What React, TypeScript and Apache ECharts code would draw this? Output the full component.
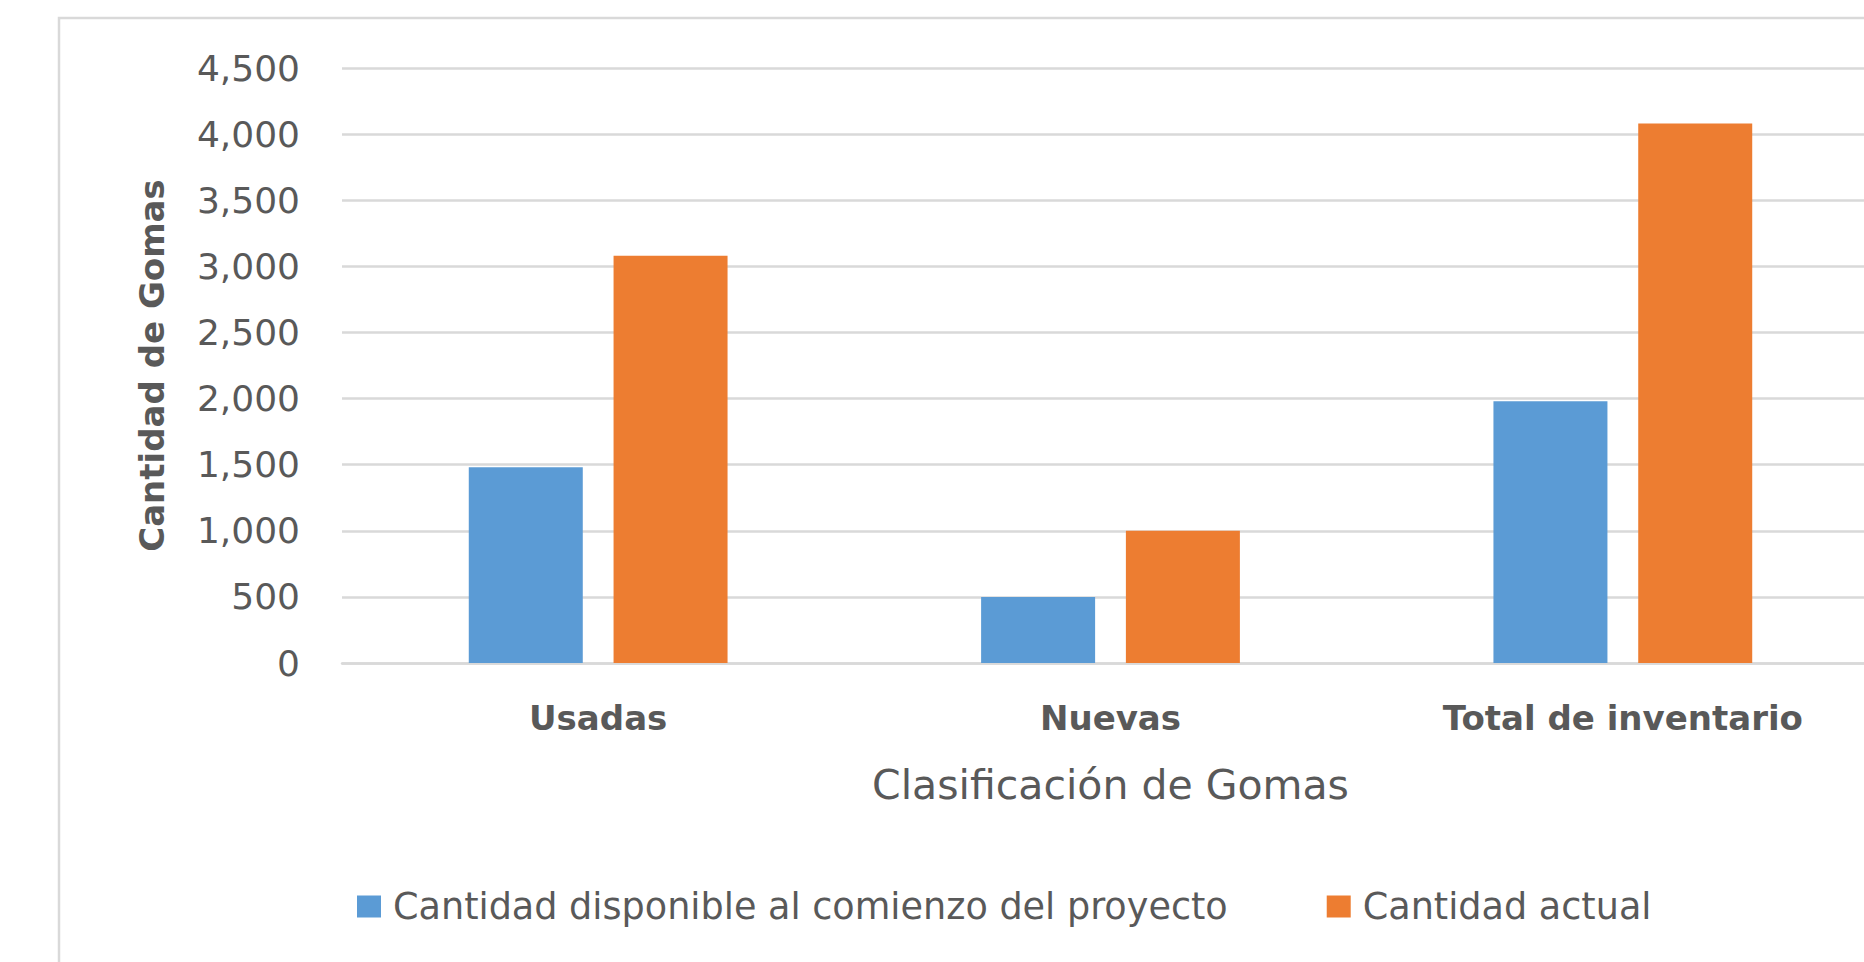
import React, { useEffect, useRef } from "react";
import * as echarts from "echarts";

const categories = ["Usadas", "Nuevas", "Total de inventario"];
const seriesNames = ["Cantidad disponible al comienzo del proyecto", "Cantidad actual"];
const inicialValues = [1480, 500, 1980];
const actualValues = [3080, 1000, 4080];
const yTicks = { min: 0, max: 4500, interval: 500 };
const xTitle = "Clasificación de Gomas";
const yTitle = "Cantidad de Gomas";

const FONT = "DejaVu Sans";
const TEXT = "#595959";
const GRID = "#d9d9d9";

export default function App() {
  const ref = useRef<HTMLDivElement>(null);
  useEffect(() => {
    if (!ref.current) return;
    const chart = echarts.init(ref.current, undefined, { renderer: "svg" });
    chart.setOption({
      animation: false,
      backgroundColor: "#ffffff",
      graphic: [
        {
          type: "rect",
          shape: { x: 59, y: 18, width: 2200, height: 2200 },
          style: { fill: "none", stroke: GRID, lineWidth: 2.5 },
          silent: true,
          z: -1,
        },
      ],
      legend: {
        left: 357,
        top: 888,
        padding: 0,
        itemWidth: 24,
        itemHeight: 22,
        itemGap: 99,
        icon: "rect",
        data: seriesNames,
        textStyle: {
          fontFamily: FONT,
          fontSize: 36.6,
          color: TEXT,
          padding: [0, 0, 0, 7],
        },
      },
      grid: { left: 342, right: 1, top: 68, bottom: 299, containLabel: false },
      xAxis: {
        type: "category",
        data: categories,
        axisTick: { show: false },
        axisLine: { show: true, lineStyle: { color: GRID, width: 2.5 } },
        axisLabel: {
          fontFamily: FONT,
          fontSize: 34,
          fontWeight: "bold",
          color: TEXT,
          margin: 38,
        },
        name: xTitle,
        nameLocation: "middle",
        nameGap: 101,
        nameTextStyle: { fontFamily: FONT, fontSize: 41, color: TEXT },
      },
      yAxis: {
        type: "value",
        min: yTicks.min,
        max: yTicks.max,
        interval: yTicks.interval,
        axisLine: { show: false },
        axisTick: { show: false },
        splitLine: { show: true, lineStyle: { color: GRID, width: 2.5 } },
        axisLabel: {
          fontFamily: FONT,
          fontSize: 36,
          color: TEXT,
          margin: 42,
          formatter: (v: number) => v.toLocaleString("en-US"),
        },
        name: yTitle,
        nameLocation: "middle",
        nameGap: 173,
        nameTextStyle: { fontFamily: FONT, fontSize: 34, fontWeight: "bold", color: TEXT },
      },
      series: [
        {
          name: seriesNames[0],
          type: "bar",
          data: inicialValues,
          barWidth: 114,
          barGap: "27%",
          itemStyle: { color: "#5B9BD5" },
        },
        {
          name: seriesNames[1],
          type: "bar",
          data: actualValues,
          barWidth: 114,
          barGap: "27%",
          itemStyle: { color: "#ED7D31" },
        },
      ],
    });
    return () => chart.dispose();
  }, []);
  return (
    <div
      style={{
        position: "fixed",
        left: 0,
        top: 0,
        width: 1864,
        height: 962,
        overflow: "hidden",
        background: "#ffffff",
      }}
    >
      <div ref={ref} style={{ width: 1880, height: 962 }} />
    </div>
  );
}
